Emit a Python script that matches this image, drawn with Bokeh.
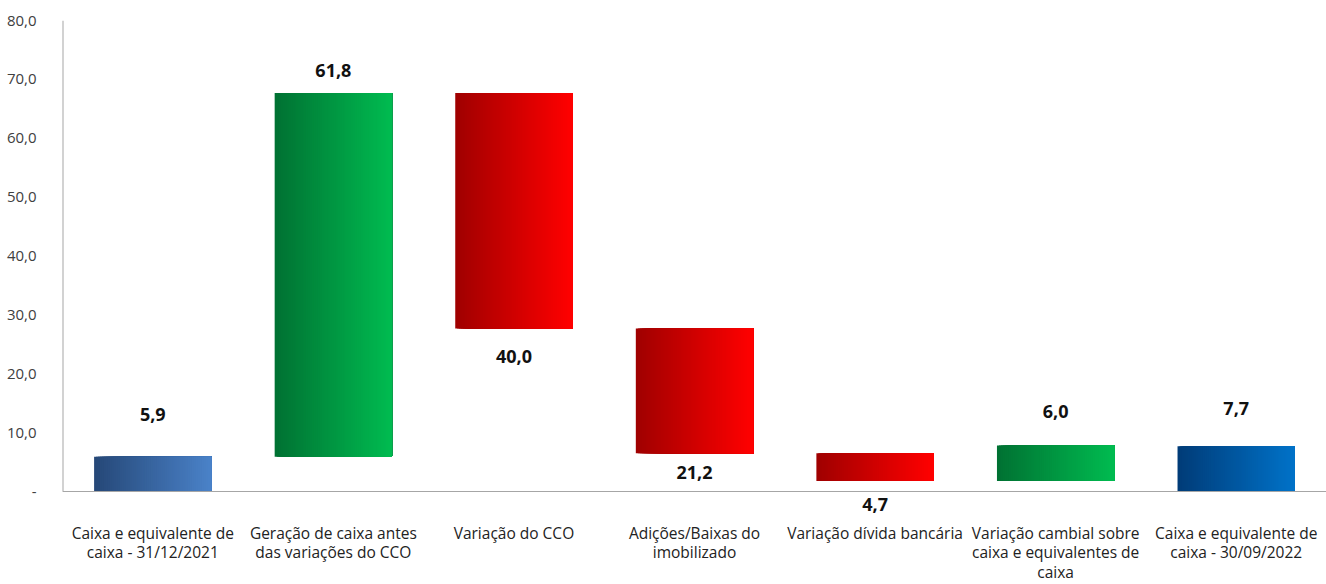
from bokeh.plotting import figure
from bokeh.models import Range1d, FixedTicker, ColumnDataSource, Span
from bokeh.core.properties import value
from bokeh.embed import file_html
from bokeh.resources import INLINE

# ---- data ----
categories = [
    "Caixa e equivalente de\ncaixa - 31/12/2021",
    "Geração de caixa antes\ndas variações do CCO",
    "Variação do CCO",
    "Adições/Baixas do\nimobilizado",
    "Variação dívida bancária",
    "Variação cambial sobre\ncaixa e equivalentes de\ncaixa",
    "Caixa e equivalente de\ncaixa - 30/09/2022",
]
values = [5.9, 61.8, -40.0, -21.2, -4.7, 6.0, 7.7]
is_total = [True, False, False, False, False, False, True]
labels = ["5,9", "61,8", "40,0", "21,2", "4,7", "6,0", "7,7"]
y_ticks = [0, 10, 20, 30, 40, 50, 60, 70, 80]
y_tick_labels = ["-", "10,0", "20,0", "30,0", "40,0", "50,0", "60,0", "70,0", "80,0"]

# ---- style ----
grad_left = ["#264878", "#007233", "#a00000", "#a00000", "#a00000", "#007233", "#003c78"]
grad_right = ["#4a82c8", "#00bb50", "#ff0000", "#ff0000", "#ff0000", "#00bb50", "#0072c8"]
label_gap = [42, 22, 28, 19, 24, 34, 38]  # px distance from bar edge
BAR_W = 0.65
N_SLICES = 60
FONT = "Open Sans"
W, H = 1326, 584
LEFT, TOP = 62, 20
ZERO_PX = 491  # screen y of the zero line
Y_MAX = 80

# ---- waterfall geometry ----
bottoms, tops = [], []
running = 0.0
for v, t in zip(values, is_total):
    if t:
        b, e = 0.0, v
        running = v
    else:
        b, e = running, running + v
        running = e
    bottoms.append(min(b, e))
    tops.append(max(b, e))


def hex_to_rgb(h):
    h = h.lstrip("#")
    return tuple(int(h[i:i + 2], 16) for i in (0, 2, 4))


def mix(c1, c2, f):
    a, b = hex_to_rgb(c1), hex_to_rgb(c2)
    return "#%02x%02x%02x" % tuple(round(a[k] + (b[k] - a[k]) * f) for k in range(3))


ql, qr, qb, qt, qc = [], [], [], [], []
for i in range(len(values)):
    x0 = i + 0.5 - BAR_W / 2
    x1 = i + 0.5 + BAR_W / 2
    dx = BAR_W / N_SLICES
    for s in range(N_SLICES):
        ql.append(x0 + s * dx)
        qr.append(x1)
        qb.append(bottoms[i])
        qt.append(tops[i])
        qc.append(mix(grad_left[i], grad_right[i], s / (N_SLICES - 1)))

px_per_unit = (ZERO_PX - TOP) / Y_MAX
y_min = -(H - ZERO_PX) / px_per_unit

p = figure(width=W, height=H, output_backend="svg", toolbar_location=None,
           x_range=Range1d(0, len(categories)), y_range=Range1d(y_min, Y_MAX),
           min_border_left=LEFT, min_border_right=0, min_border_top=TOP, min_border_bottom=0)
p.outline_line_color = None
p.xgrid.visible = False
p.ygrid.visible = False
p.xaxis.visible = False
p.background_fill_color = "white"

p.quad(left=ql, right=qr, bottom=qb, top=qt, fill_color=qc, line_color=None)

# axis lines
p.add_layout(Span(location=0, dimension="width", line_color="#a6a6a6", line_width=1))
p.segment(x0=[0], y0=[0], x1=[0], y1=[Y_MAX], line_color="#a6a6a6", line_width=2)

# value labels
lx, ly, loff = [], [], []
for i, v in enumerate(values):
    lx.append(i + 0.5)
    if v >= 0:
        ly.append(tops[i])
        loff.append(-label_gap[i])
    else:
        ly.append(bottoms[i])
        loff.append(label_gap[i])
src = ColumnDataSource(dict(x=lx, y=ly, t=labels, off=loff))
p.text(x="x", y="y", text="t", y_offset="off", source=src, text_align="center",
       text_baseline="middle", text_font=value(FONT), text_font_size="18px",
       text_font_style="bold", text_color="#111111")

# category labels
csrc = ColumnDataSource(dict(x=[i + 0.5 for i in range(len(categories))],
                             y=[0] * len(categories), t=categories))
p.text(x="x", y="y", text="t", source=csrc, y_offset=30, text_align="center",
       text_baseline="top", text_font=value(FONT), text_font_size="15.5px",
       text_line_height=0.9, text_color="#222222")

# y axis
p.yaxis.ticker = FixedTicker(ticks=y_ticks)
p.yaxis.major_label_overrides = {t: l for t, l in zip(y_ticks, y_tick_labels)}
p.yaxis.major_tick_line_color = None
p.yaxis.minor_tick_line_color = None
p.yaxis.axis_line_color = None
p.yaxis.major_label_text_font = FONT
p.yaxis.major_label_text_font_size = "15px"
p.yaxis.major_label_text_color = "#404040"
p.yaxis.major_label_standoff = 20

open("out.html", "w").write(file_html(p, INLINE))
